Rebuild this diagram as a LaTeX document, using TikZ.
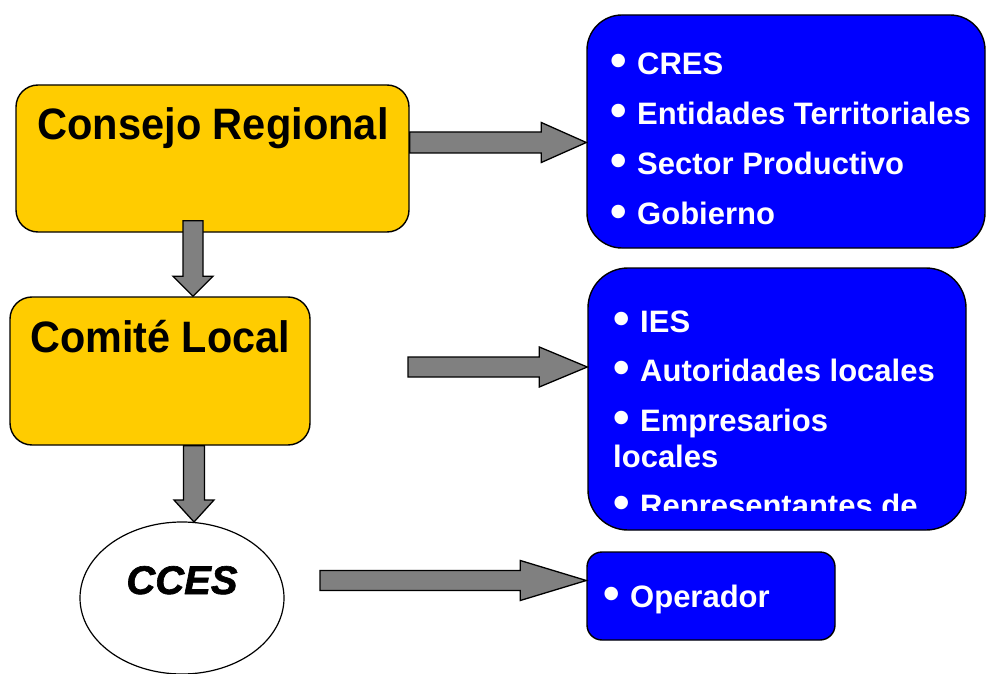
\documentclass[tikz,border=0pt]{standalone}
\usepackage{fontspec}
\usepackage{graphicx}
\setmainfont{Liberation Sans}
\newfontfamily\ccesfont[FakeBold=1.6]{Liberation Sans}
\usetikzlibrary{calc}
\definecolor{boxyellow}{HTML}{FFCC00}
\definecolor{boxblue}{HTML}{0000FF}
\definecolor{arrowgray}{HTML}{808080}
\newcommand\bul{\makebox[27pt][l]{\hspace{0.5pt}\raisebox{-2pt}{\fontsize{47}{47}\selectfont •}}}
\newcommand\harrow[5]{% start, tip, half shaft, half head, head length
  \draw[blk] ($(#1)+(0,-#3)$) -- ($(#2)+(-#5,-#3)$) -- ($(#2)+(-#5,-#4)$) -- (#2)
    -- ($(#2)+(-#5,#4)$) -- ($(#2)+(-#5,#3)$) -- ($(#1)+(0,#3)$) -- cycle;}
\newcommand\varrow[5]{%
  \draw[blk] ($(#1)+(-#3,0)$) -- ($(#2)+(-#3,-#5)$) -- ($(#2)+(-#4,-#5)$) -- (#2)
    -- ($(#2)+(#4,-#5)$) -- ($(#2)+(#3,-#5)$) -- ($(#1)+(#3,0)$) -- cycle;}
\begin{document}
\begin{tikzpicture}[x=1pt,y=-1pt,
  ybox/.style={draw=black, line width=1.4pt, fill=boxyellow, rounded corners=22pt, inner sep=0pt},
  bbox/.style={draw=black, line width=1.4pt, fill=boxblue, inner sep=0pt},
  ytext/.style={inner sep=0pt, font=\fontsize{44}{44}\selectfont\bfseries},
  btext/.style={inner sep=0pt, anchor=base west, text=white, font=\fontsize{31}{31}\selectfont\bfseries},
  blk/.style={draw=black, line width=1.3pt, fill=arrowgray, line join=miter}]
\useasboundingbox (0,0) rectangle (986,674);
\fill[white] (0,0) rectangle (986,674);

% yellow boxes
\node[ybox, minimum width=393pt, minimum height=147pt] (cr) at (212.5,158.5) {};
\node[ytext, anchor=base] (crt) at (213,140) {\scalebox{0.945}[1]{Consejo Regional}};
\node[ybox, minimum width=300pt, minimum height=148pt] (cl) at (160,371) {};
\node[ytext, anchor=base] (clt) at (160,352) {\scalebox{0.94}[1]{Comité Local}};

% ellipse
\draw[line width=1.2pt, fill=white] (182,598) ellipse [x radius=102, y radius=76];
\coordinate (elltop) at (182,522);
\node[inner sep=0pt, anchor=base, font=\fontsize{40}{40}\selectfont\ccesfont\bfseries\itshape] (cces) at (182,594) {CCES};

% blue boxes
\node[bbox, rounded corners=35pt, minimum width=398pt, minimum height=233pt] (b1) at (786,131.5) {};
\node[btext] (b1a) at (610,75) {\bul CRES};
\node[btext] (b1b) at (610,125) {\bul Entidades Territoriales};
\node[btext] (b1c) at (610,175) {\bul Sector Productivo};
\node[btext] (b1d) at (610,225) {\bul Gobierno};

\node[bbox, rounded corners=40pt, minimum width=378pt, minimum height=262pt] (b2) at (777,399) {};
\begin{scope}
\clip (588,268) rectangle (966,510);
\node[btext] (b2a) at (613,332) {\bul IES};
\node[btext] (b2b) at (613,381) {\bul Autoridades locales};
\node[btext] (b2c) at (613,431) {\bul Empresarios};
\node[btext] (b2d) at (613,467) {locales};
\node[btext] (b2e) at (613,516) {\bul Representantes de};
\end{scope}

\node[bbox, rounded corners=15pt, minimum width=248pt, minimum height=88pt] (b3) at (711,596) {};
\node[btext] (b3a) at (603,607) {\bul Operador};

% arrows
\coordinate (a1s) at ([yshift=16pt]cr.east);
\coordinate (a1t) at (b1.west |- a1s);
\harrow{a1s}{a1t}{10.5}{20}{45}

\coordinate (a2s) at (408,367);
\coordinate (a2t) at (b2.west |- a2s);
\harrow{a2s}{a2t}{10}{20}{48}

\coordinate (a3s) at (320,580.5);
\coordinate (a3t) at (b3.west |- a3s);
\harrow{a3s}{a3t}{10}{20}{66}

\coordinate (v1s) at ([xshift=-19.5pt,yshift=12pt]cr.south);
\coordinate (v1t) at (cl.north -| v1s);
\varrow{v1s}{v1t}{10}{20}{20}

\coordinate (v2s) at ([xshift=34pt]cl.south);
\coordinate (v2t) at (elltop -| v2s);
\varrow{v2s}{v2t}{10.5}{20}{22}
\end{tikzpicture}
\end{document}
